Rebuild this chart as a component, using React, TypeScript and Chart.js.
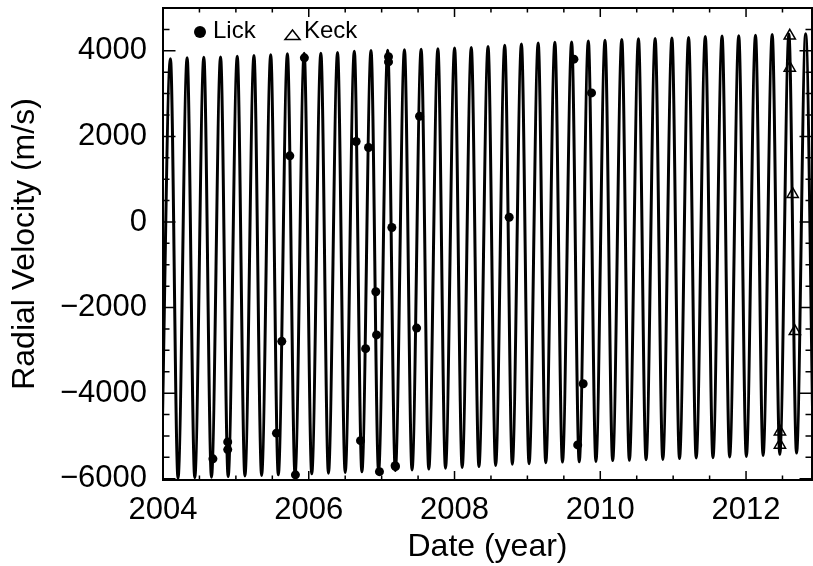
import React, { useEffect, useRef } from 'react';
import { Chart, registerables } from 'chart.js';

Chart.register(...registerables);

// ---- Data ----
// Model curve: maxima and minima of the fitted radial-velocity curve
const peakYears = [
  2004.102, 2004.331, 2004.560, 2004.790, 2005.019, 2005.248, 2005.478, 2005.707,
  2005.937, 2006.166, 2006.395, 2006.625, 2006.854, 2007.083, 2007.313, 2007.542,
  2007.772, 2008.001, 2008.230, 2008.460, 2008.689, 2008.918, 2009.148, 2009.377,
  2009.607, 2009.836, 2010.065, 2010.295, 2010.524, 2010.753, 2010.983, 2011.212,
  2011.441, 2011.671, 2011.900, 2012.130, 2012.359, 2012.588, 2012.818,
];
const peakRV = [
  3815, 3840, 3850, 3855, 3870, 3890, 3905, 3930,
  3940, 3945, 3960, 3990, 4005, 4015, 4025, 4035,
  4050, 4065, 4075, 4100, 4130, 4160, 4185, 4200,
  4205, 4230, 4244, 4265, 4280, 4285, 4298, 4310,
  4335, 4345, 4350, 4362, 4378, 4392, 4400,
];
const troughYears = [
  2003.977,
  2004.206, 2004.436, 2004.665, 2004.894, 2005.124, 2005.353, 2005.582, 2005.812,
  2006.041, 2006.270, 2006.500, 2006.729, 2006.958, 2007.188, 2007.417, 2007.647,
  2007.876, 2008.105, 2008.335, 2008.564, 2008.793, 2009.023, 2009.252, 2009.481,
  2009.711, 2009.940, 2010.170, 2010.399, 2010.628, 2010.858, 2011.087, 2011.316,
  2011.546, 2011.775, 2012.004, 2012.234, 2012.463, 2012.693, 2012.922,
];
const troughRV = [
  -6005,
  -5990, -5975, -5965, -5950, -5935, -5925, -5910, -5900,
  -5885, -5870, -5855, -5840, -5825, -5810, -5795, -5775,
  -5755, -5735, -5715, -5690, -5660, -5650, -5625, -5610,
  -5605, -5595, -5575, -5570, -5555, -5550, -5530, -5515,
  -5510, -5490, -5480, -5455, -5430, -5400, -5390,
];

// Lick observations (filled circles)
const lickYears = [
  2004.685, 2004.888, 2004.888, 2005.557, 2005.630, 2005.740, 2005.817, 2005.940,
  2006.650, 2006.710, 2006.780, 2006.820, 2006.920, 2006.930, 2006.970, 2007.094,
  2007.094, 2007.140, 2007.185, 2007.190, 2007.480, 2007.520, 2008.750, 2009.638,
  2009.690, 2009.765, 2009.880,
];
const lickRV = [
  -5535, -5140, -5320, -4935, -2790, 1545, -5910, 3835,
  1880, -5110, -2960, 1740, -1630, -2640, -5835, 3860,
  3740, -130, -5695, -5715, -2480, 2470, 110, 3805,
  -5210, -3780, 3015,
];

// Keck observations (open triangles)
const keckYears = [2012.465, 2012.465, 2012.600, 2012.600, 2012.640, 2012.670];
const keckRV = [-4900, -5210, 4350, 3600, 650, -2555];

// Axes
const xTickValues = [2004, 2006, 2008, 2010, 2012];
const yTickValues = [-6000, -4000, -2000, 0, 2000, 4000];
const xMinorStep = 0.5;
const yMinorStep = 500;
const xRange = [2004, 2012.905];
const yRange = [-6030, 5000];

const FONT = '"Liberation Sans", Arial, Helvetica, sans-serif';

function fmt(v: number): string {
  return v < 0 ? '\u2212' + String(Math.abs(v)) : String(v);
}

const framePlugin = {
  id: 'frameTicks',
  afterDatasetsDraw(chart: any) {
    const { ctx, chartArea: a, scales } = chart;
    const xs = scales.x;
    const ys = scales.y;
    ctx.save();
    ctx.strokeStyle = '#000';
    ctx.lineWidth = 1.5;
    ctx.beginPath();
    const x0 = Math.ceil(xs.min / xMinorStep) * xMinorStep;
    for (let v = x0; v <= xs.max + 1e-9; v += xMinorStep) {
      const major = xTickValues.some((t) => Math.abs(t - v) < 1e-6);
      const len = major ? 9 : 4.5;
      const px = xs.getPixelForValue(v);
      ctx.moveTo(px, a.bottom);
      ctx.lineTo(px, a.bottom - len);
      ctx.moveTo(px, a.top);
      ctx.lineTo(px, a.top + len);
    }
    const y0 = Math.ceil(ys.min / yMinorStep) * yMinorStep;
    for (let v = y0; v <= ys.max + 1e-9; v += yMinorStep) {
      const major = yTickValues.some((t) => Math.abs(t - v) < 1e-6);
      const len = major ? 12.5 : 6.5;
      const py = ys.getPixelForValue(v);
      ctx.moveTo(a.left, py);
      ctx.lineTo(a.left + len, py);
      ctx.moveTo(a.right, py);
      ctx.lineTo(a.right - len, py);
    }
    ctx.stroke();
    ctx.lineWidth = 2;
    ctx.strokeRect(a.left, a.top, a.right - a.left, a.bottom - a.top);

    // legend inside the plot
    ctx.fillStyle = '#000';
    ctx.beginPath();
    ctx.arc(200, 32, 6, 0, Math.PI * 2);
    ctx.fill();
    ctx.font = '24px ' + FONT;
    ctx.textBaseline = 'alphabetic';
    ctx.textAlign = 'left';
    ctx.fillText('Lick', 213, 38);
    ctx.lineWidth = 1.5;
    ctx.beginPath();
    ctx.moveTo(285, 39.5);
    ctx.lineTo(300, 39.5);
    ctx.lineTo(292.5, 30);
    ctx.closePath();
    ctx.stroke();
    ctx.fillText('Keck', 304, 38);
    ctx.restore();
  },
};

export default function App() {
  const ref = useRef<HTMLCanvasElement | null>(null);

  useEffect(() => {
    if (!ref.current) return;
    const curve: { x: number; y: number }[] = [];
    peakYears.forEach((x, i) => curve.push({ x, y: peakRV[i] }));
    troughYears.forEach((x, i) => curve.push({ x, y: troughRV[i] }));
    curve.sort((p, q) => p.x - q.x);

    const lick = lickYears.map((x, i) => ({ x, y: lickRV[i] }));
    const keck = keckYears.map((x, i) => ({ x, y: keckRV[i] }));

    const chart = new Chart(ref.current, {
      type: 'scatter',
      data: {
        datasets: [
          {
            label: 'Lick',
            data: lick,
            pointStyle: 'circle',
            pointRadius: 4.5,
            backgroundColor: '#000',
            borderColor: '#000',
            borderWidth: 0,
          },
          {
            label: 'Keck',
            data: keck,
            pointStyle: 'triangle',
            pointRadius: 6.5,
            backgroundColor: 'rgba(0,0,0,0)',
            borderColor: '#000',
            borderWidth: 1.5,
          },
          {
            label: 'Model',
            data: curve,
            showLine: true,
            pointRadius: 0,
            borderColor: '#000',
            borderWidth: 3,
            cubicInterpolationMode: 'monotone',
          } as any,
        ],
      },
      options: {
        animation: false,
        responsive: false,
        events: [],
        layout: { autoPadding: false, padding: { top: 8, right: 1, left: 0, bottom: 0 } },
        plugins: { legend: { display: false }, tooltip: { enabled: false } },
        scales: {
          x: {
            type: 'linear',
            min: xRange[0],
            max: xRange[1],
            afterFit: (s: any) => {
              s.height = 86;
              s.paddingLeft = 0;
              s.paddingRight = 0;
            },
            afterBuildTicks: (s: any) => {
              s.ticks = xTickValues.map((v) => ({ value: v }));
            },
            grid: { display: false, drawTicks: false },
            border: { display: false },
            ticks: {
              padding: 12,
              color: '#000',
              font: { family: FONT, size: 31 },
              maxRotation: 0,
              autoSkip: false,
              callback: (v: any) => String(v),
            },
            title: {
              display: true,
              text: 'Date (year)',
              color: '#000',
              font: { family: FONT, size: 32 },
              padding: { top: 0, bottom: 0 },
            },
          },
          y: {
            type: 'linear',
            min: yRange[0],
            max: yRange[1],
            afterFit: (s: any) => {
              s.width = 163;
              s.paddingTop = 0;
              s.paddingBottom = 0;
            },
            afterBuildTicks: (s: any) => {
              s.ticks = yTickValues.map((v) => ({ value: v }));
            },
            grid: { display: false, drawTicks: false },
            border: { display: false },
            ticks: {
              padding: 16,
              color: '#000',
              font: { family: FONT, size: 31 },
              autoSkip: false,
              callback: (v: any) => fmt(Number(v)),
            },
            title: {
              display: true,
              text: 'Radial Velocity (m/s)',
              color: '#000',
              font: { family: FONT, size: 32 },
              padding: { top: 6, bottom: 0 },
            },
          },
        },
      },
      plugins: [framePlugin],
    } as any);

    return () => chart.destroy();
  }, []);

  return (
    <div style={{ position: 'fixed', left: 0, top: 0, width: 813, height: 566, background: '#fff' }}>
      <canvas ref={ref} width={813} height={566} style={{ width: 813, height: 566, display: 'block' }} />
    </div>
  );
}
